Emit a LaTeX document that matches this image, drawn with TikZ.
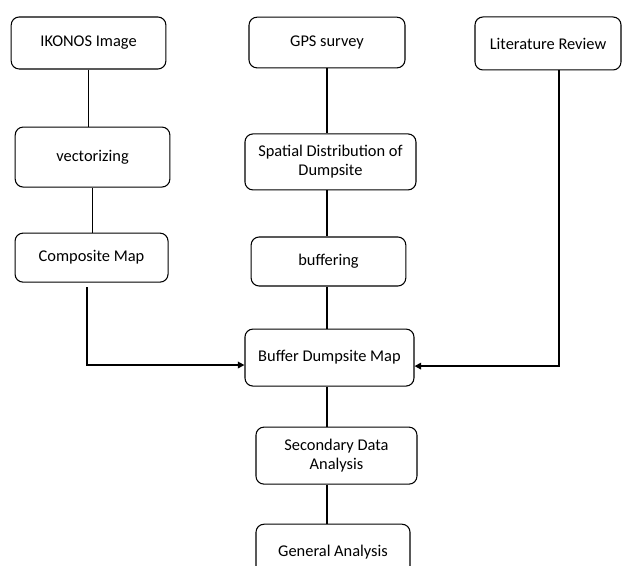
\documentclass[tikz,border=0pt]{standalone}
\usepackage{fontspec}
\setmainfont{Carlito}
\usetikzlibrary{arrows.meta,positioning}

\begin{document}
\begin{tikzpicture}[
  node distance=30pt,
  box/.style={draw, line width=0.8pt, rounded corners=6pt, align=center,
              inner sep=0pt, minimum width=116pt, minimum height=38pt,
              font=\fontsize{12.3}{14.5}\selectfont},
  link/.style={line width=1.2pt},
  arrow/.style={link, -{Triangle[length=5pt,width=5pt]}}
]
\useasboundingbox (0,0) rectangle (467.25pt,-424.5pt);
% top row
\node[box, minimum height=39pt] (ikonos) at (66.4pt,-32.25pt) {IKONOS Image};
\node[box, minimum width=117pt] (gps) at (245.25pt,-31.9pt) {GPS survey};
\node[box, minimum width=109.5pt, minimum height=39.75pt] (lit) at (411pt,-32.6pt) {Literature Review};
% left column
\node[box, minimum height=45pt, below=42.75pt of ikonos, xshift=3pt] (vect) {vectorizing};
\node[box, minimum width=114.75pt, minimum height=36.75pt, below=33.75pt of vect, xshift=-0.75pt] (comp) {Composite Map};
% middle column
\node[box, minimum width=128.25pt, minimum height=42pt, below=48.75pt of gps, xshift=2.6pt] (spatial) {Spatial Distribution of\\Dumpsite};
\node[box, minimum height=36.75pt, below=34.5pt of spatial, xshift=-1.5pt] (buff) {buffering};
\node[box, minimum width=126.75pt, minimum height=42.75pt, below=31.5pt of buff, xshift=0.75pt] (bmap) {Buffer Dumpsite Map};
\node[box, minimum width=120.75pt, minimum height=42.75pt, below=30pt of bmap, xshift=5.25pt] (second) {Secondary Data\\Analysis};
\node[box, minimum width=115.5pt, minimum height=42pt, below=29.25pt of second, xshift=-2.6pt] (general) {General Analysis};
% connectors
\draw[link] (ikonos) -- (ikonos |- vect.north);
\draw[link] (vect) -- (vect |- comp.north);
\draw[link] (gps) -- (gps |- spatial.north);
\draw[link] (spatial.south -| gps) -- (buff.north -| gps);
\draw[link] (buff.south -| gps) -- (bmap.north -| gps);
\draw[link] (bmap.south -| gps) -- (second.north -| gps);
\draw[link] (second.south -| gps) -- (general.north -| gps);
\draw[arrow] ([xshift=-3.4pt,yshift=-3.5pt]comp.south) |- ([yshift=-5.6pt]bmap.west);
\draw[arrow] ([xshift=8.25pt]lit.south) |- ([yshift=-6.4pt]bmap.east);
\end{tikzpicture}
\end{document}
